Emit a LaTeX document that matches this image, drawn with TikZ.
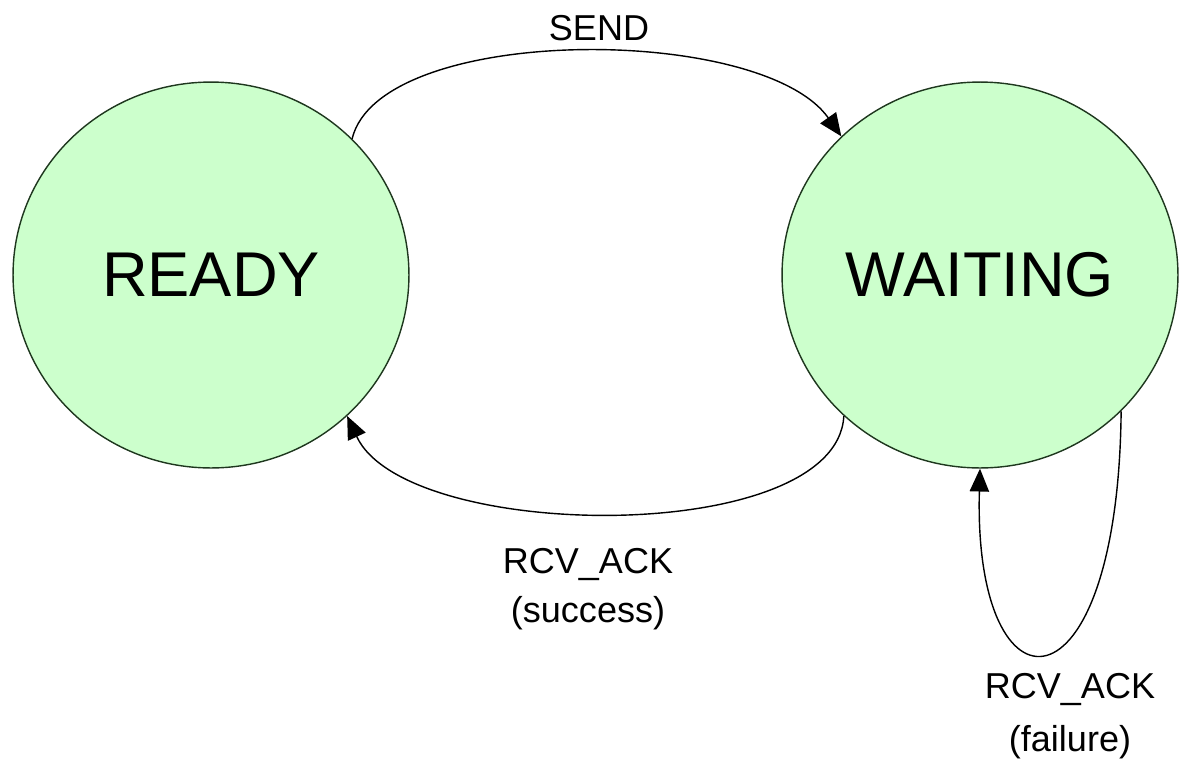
\documentclass[tikz,border=0pt]{standalone}
\usepackage{fontspec}
\setmainfont{Liberation Sans}
\usetikzlibrary{shapes.geometric, arrows.meta}

\definecolor{statefill}{RGB}{204,255,204}
\definecolor{stateline}{RGB}{30,55,30}

\begin{document}
\begin{tikzpicture}[x = 0.02cm, y = -0.02cm, line width = 0.8pt,
    >={Triangle[length = 13pt, width = 11pt]},
    state/.style = {shape = ellipse, draw = stateline, fill = statefill, inner sep = 0pt,
        minimum width = 7.92cm, minimum height = 7.72cm, font = \fontsize{36}{43}\selectfont},
    lbl/.style = {anchor = base, inner sep = 0pt, font = \fontsize{20.5}{25}\selectfont}]
        \useasboundingbox (0,0) rectangle (1181,775);

        % the two states
        \node[state] (ready) at (211,275) {READY};
        \node[state] (waiting) at (980,275) {WAITING};

        % transitions
        \draw[->] (ready.44) .. controls +(28,-115) and +(-80,-113) .. (waiting.135);
        \draw[->] (waiting.226) .. controls +(-7,131) and +(59,127) .. (ready.314);
        \draw[->] (waiting.316) .. controls +(-3,312) and +(-7,255) .. (waiting.south);

        % labels
        \node[lbl] (send) at (599,40) {SEND};
        \node[lbl] (okack) at (588,573) {RCV\_ACK};
        \node[lbl] (okwhy) at (588,622) {(success)};
        \node[lbl] (failack) at (1070,698) {RCV\_ACK};
        \node[lbl] (failwhy) at (1070,751) {(failure)};
\end{tikzpicture}
\end{document}
